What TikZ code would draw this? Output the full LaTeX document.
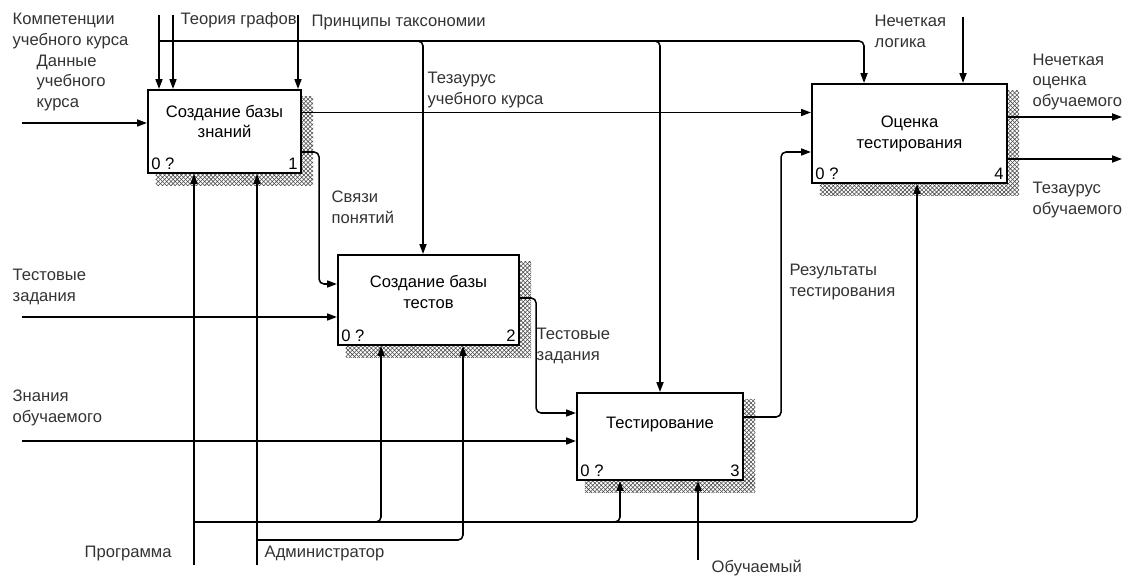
\documentclass[tikz,border=0pt]{standalone}
\usepackage{fontspec}
\setmainfont{Liberation Sans}
\usetikzlibrary{arrows.meta,patterns,backgrounds}

\begin{document}
\begin{tikzpicture}[x=0.025cm,y=-0.025cm,
    font=\fontsize{11.8}{14.9}\selectfont,
    func/.style={draw,line width=1.5pt,fill=white,inner sep=0pt},
    boxtext/.style={align=center},
    num/.style={inner sep=3pt},
    flow/.style={line width=1.1pt,->,>={Triangle[length=7pt,width=5pt]},rounded corners=3.5pt},
    lbl/.style={align=left,anchor=west,inner sep=1pt,text=black!80}]
  \useasboundingbox (0,0) rectangle (1129,576);

  % blocks
  \node[func,minimum width=3.825cm,minimum height=2.075cm,
        label={[boxtext,yshift=0.25cm]center:Создание базы\\знаний},
        label={[num,anchor=south west]south west:0 ?},
        label={[num,anchor=south east]south east:1}] (b1) at (224.5,131.5) {};
  \node[func,minimum width=4.525cm,minimum height=2.25cm,
        label={[boxtext,yshift=0.19cm]center:Создание базы\\тестов},
        label={[num,anchor=south west]south west:0 ?},
        label={[num,anchor=south east]south east:2}] (b2) at (428.5,300) {};
  \node[func,minimum width=4.15cm,minimum height=2.175cm,
        label={[boxtext,yshift=0.3cm]center:Тестирование},
        label={[num,anchor=south west]south west:0 ?},
        label={[num,anchor=south east]south east:3}] (b3) at (660,436.5) {};
  \node[func,minimum width=4.875cm,minimum height=2.475cm,
        label={[boxtext]center:Оценка\\тестирования},
        label={[num,anchor=south west]south west:0 ?},
        label={[num,anchor=south east]south east:4}] (b4) at (909.5,133.5) {};

  % shadows
  \begin{scope}[on background layer]
    \fill[white] (0,0) rectangle (1129,576);
    \foreach \b in {b1,b2,b3,b4}
      \fill[pattern=crosshatch,pattern color=black!70] ([shift={(9,8)}]\b.north west) rectangle ([shift={(11,11)}]\b.south east);
  \end{scope}

  % free ends
  \coordinate (c_komp) at (159,15);
  \coordinate (c_graf) at (173,15);
  \coordinate (c_tax) at (298,15);
  \coordinate (c_bus) at (159,41);
  \coordinate (c_logic) at (963,17);
  \coordinate (c_data) at (22,123);
  \coordinate (c_tests) at (22,317);
  \coordinate (c_know) at (22,441);
  \coordinate (c_est) at (1122,117);
  \coordinate (c_thes) at (1122,159);
  \coordinate (c_prog) at (194,565);
  \coordinate (c_pbus) at (194,522);
  \coordinate (c_adm) at (257,565);
  \coordinate (c_abus) at (257,540);
  \coordinate (c_learn) at (698,560);

  % controls
  \draw[flow] (c_komp) -- (c_komp |- b1.north);
  \draw[flow] (c_graf) -- (c_graf |- b1.north);
  \draw[flow] (c_tax) -- (c_tax |- b1.north);
  \draw[flow] (c_bus) -| ([shift={(-5.5,0)}]b2.north);
  \draw[flow] (c_bus) -| (b3.north);
  \draw[flow] (c_bus) -| ([shift={(-45.5,0)}]b4.north);
  \draw[flow] (c_logic) -- (c_logic |- b4.north);

  % inputs and outputs
  \draw[flow] (c_data) -- (c_data -| b1.west);
  \draw[flow] (c_tests) -- (c_tests -| b2.west);
  \draw[flow] (c_know) -- (c_know -| b3.west);
  \draw[flow] ([shift={(0,-19)}]b1.east) -- ([shift={(0,-21)}]b4.west);
  \draw[flow] ([shift={(0,20.5)}]b1.east) -| ++(17,132) -- ([shift={(0,-16)}]b2.west);
  \draw[flow] ([shift={(0,-2)}]b2.east) -| ++(16,115) -- ([shift={(0,-23.5)}]b3.west);
  \draw[flow] ([shift={(0,-19.5)}]b3.east) -| ++(37,-265) -- ([shift={(0,18.5)}]b4.west);
  \draw[flow] ([shift={(0,-16.5)}]b4.east) -- (c_est);
  \draw[flow] ([shift={(0,25.5)}]b4.east) -- (c_thes);

  % mechanisms
  \draw[flow] (c_prog) -- (c_prog |- b1.south);
  \draw[flow] (c_pbus) -| ([shift={(-47.5,0)}]b2.south);
  \draw[flow] (c_pbus) -| ([shift={(-40,0)}]b3.south);
  \draw[flow] (c_pbus) -| ([shift={(7.5,0)}]b4.south);
  \draw[flow] (c_adm) -- (c_adm |- b1.south);
  \draw[flow] (c_abus) -| ([shift={(34.5,0)}]b2.south);
  \draw[flow] (c_learn) -- (c_learn |- b3.south);

  % labels
  \node[lbl] (l_komp) at (11,31) {Компетенции\\учебного курса};
  \node[lbl] (l_graf) at (179,20) {Теория графов};
  \node[lbl] (l_tax) at (310,23) {Принципы таксономии};
  \node[lbl] (l_data) at (35,83) {Данные\\учебного\\курса};
  \node[lbl] (l_thcourse) at (426,90) {Тезаурус\\учебного курса};
  \node[lbl] (l_logic) at (873,31) {Нечеткая\\логика};
  \node[lbl] (l_est) at (1031,82) {Нечеткая\\оценка\\обучаемого};
  \node[lbl] (l_thes) at (1031,200) {Тезаурус\\обучаемого};
  \node[lbl] (l_links) at (330,207) {Связи\\понятий};
  \node[lbl] (l_tests) at (11,287) {Тестовые\\задания};
  \node[lbl] (l_tasks) at (535,346) {Тестовые\\задания};
  \node[lbl] (l_know) at (11,408) {Знания\\обучаемого};
  \node[lbl] (l_res) at (788,282) {Результаты\\тестирования};
  \node[lbl] (l_prog) at (83,554) {Программа};
  \node[lbl] (l_adm) at (263,554) {Администратор};
  \node[lbl] (l_learn) at (710,568) {Обучаемый};
\end{tikzpicture}
\end{document}
